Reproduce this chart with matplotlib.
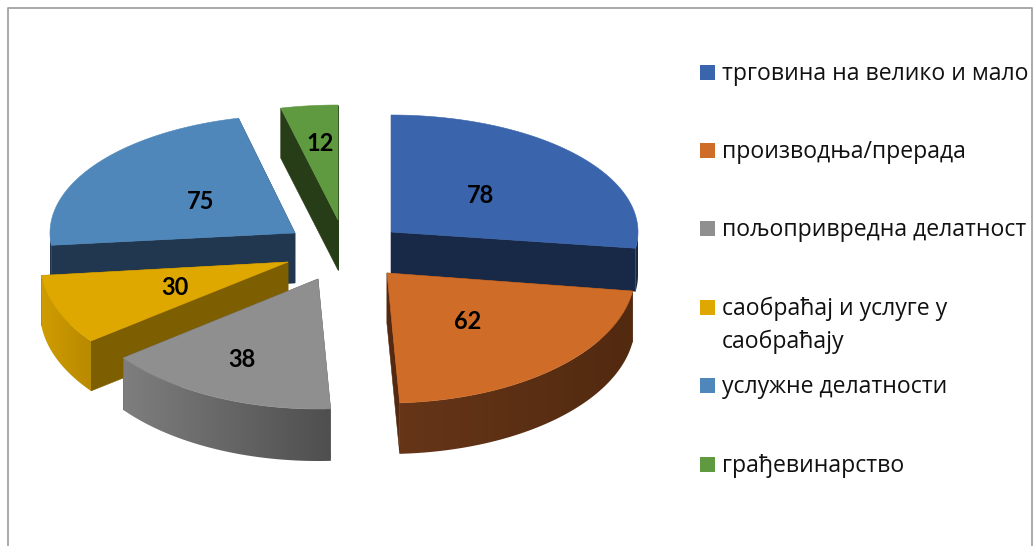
import numpy as np
import matplotlib
matplotlib.use('Agg')
import matplotlib.pyplot as plt
from matplotlib.colors import to_rgb
from matplotlib.patches import Polygon, Rectangle

# values, clockwise from 12 o'clock
categories = ['трговина на велико и мало', 'производња/прерада', 'пољопривредна делатност',
              'саобраћај и услуге у\nсаобраћају', 'услужне делатности', 'грађевинарство']
values = [78, 62, 38, 30, 75, 12]

top_colors = ['#3a64ab', '#cf6c28', '#8f8f8f', '#dfa800', '#4f87bb', '#5f9a40']
cut_colors = ['#182947', '#55290f', '#555555', '#7d5e00', '#20374f', '#273d17']
wall_left = ['#182947', '#663518', '#7e7e7e', '#cf9c00', '#20374f', '#273d17']
wall_right = ['#182947', '#522a10', '#4f4f4f', '#b98a00', '#20374f', '#273d17']

# layout of each exploded slice, in pixels
apex_x = [391, 387, 318, 288, 295, 338]
apex_y = [232, 273, 279, 262, 233, 220]
radius_x = [247, 248, 245, 248, 245, 248]
radius_y = [117, 130, 130, 130, 118, 115]
depth = [43, 51, 52, 50, 50, 50]
label_frac_x = [0.48, 0.48, 0.74, 0.49, 0.47, 0.63]
label_frac_y = [0.49, 0.49, 0.67, 0.49, 0.49, 0.68]
draw_order = [5, 4, 0, 3, 2, 1]

# 3d view bends the angles, this maps true angle to drawn angle
warp_in = [0, 95.2, 170.8, 217.2, 253.8, 345.3, 360]
warp_out = [0, 98, 177, 232.6, 264, 346.6, 360]

legend_y = [72.5, 150.5, 228.5, 307.5, 385.5, 464.5]
line_gap = 33


def rim(i, theta):
    t = np.radians(theta)
    return apex_x[i] + radius_x[i] * np.sin(t), apex_y[i] - radius_y[i] * np.cos(t)


fig = plt.figure(figsize=(10.33, 5.46), dpi=100)
ax = fig.add_axes([0, 0, 1, 1])
ax.axis('off')

# frame of the picture, no line at the bottom
ax.plot([8, 8, 1032, 1032], [546, 7.5, 7.5, 546], color='#a3a3a3', lw=1.3)

cum = np.cumsum([0] + values) / sum(values) * 360
z = 2
for i in draw_order:
    start = np.interp(cum[i], warp_in, warp_out)
    end = np.interp(cum[i + 1], warp_in, warp_out)
    d = depth[i]

    # the two cut faces
    for a in (start, end):
        x, y = rim(i, a)
        ax.add_patch(Polygon([(apex_x[i], apex_y[i]), (x, y), (x, y + d), (apex_x[i], apex_y[i] + d)],
                             closed=True, fc=cut_colors[i], ec=cut_colors[i], lw=0.4, zorder=z))

    # outer wall, only the part facing us, gradient image clipped to its outline
    w0, w1 = max(start, 90), min(end, 270)
    if w1 > w0:
        th = np.linspace(w0, w1, 80)
        xs, ys = rim(i, th)
        outline = Polygon(list(zip(xs, ys)) + list(zip(xs[::-1], ys[::-1] + d)), closed=True,
                          fc='none', ec='none', transform=ax.transData)
        ax.add_patch(outline)
        c0, c1 = np.array(to_rgb(wall_left[i])), np.array(to_rgb(wall_right[i]))
        grad = np.linspace(0, 1, 64)[None, :, None] * (c1 - c0) + c0
        im = ax.imshow(grad, extent=(xs.min(), xs.max(), ys.max() + d, ys.min()), aspect='auto',
                       interpolation='bilinear', zorder=z)
        im.set_clip_path(outline)

    # top face
    th = np.linspace(start, end, 100)
    xs, ys = rim(i, th)
    pts = [(apex_x[i], apex_y[i])] + list(zip(xs, ys))
    ax.add_patch(Polygon(pts, closed=True, fc=top_colors[i], ec=top_colors[i], lw=0.4, zorder=z))

    # value label
    mid = np.radians((start + end) / 2)
    ax.text(apex_x[i] + label_frac_x[i] * radius_x[i] * np.sin(mid),
            apex_y[i] - label_frac_y[i] * radius_y[i] * np.cos(mid) + 1.5,
            str(values[i]), ha='center', va='center', fontsize=17, fontweight='bold',
            family=['Lato', 'DejaVu Sans'], color='black', zorder=50)
    z += 1

# legend, rows are not evenly spaced so placed by hand
for i, name in enumerate(categories):
    ax.add_patch(Rectangle((700, legend_y[i] - 7.5), 15, 15, fc=top_colors[i], ec='none', zorder=50))
    for n, line in enumerate(name.split('\n')):
        ax.text(722, legend_y[i] + 1.5 + n * line_gap, line, ha='left', va='center', fontsize=16.55,
                family=['Open Sans', 'DejaVu Sans'], color='#111111', zorder=50)

ax.set_xlim(0, 1033)
ax.set_ylim(546, 0)
plt.savefig('out.png', dpi=100)
